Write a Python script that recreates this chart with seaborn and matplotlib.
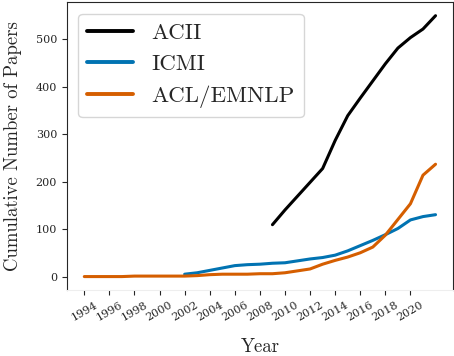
import numpy as np
import pandas as pd
import matplotlib
matplotlib.use("Agg")
import matplotlib.pyplot as plt
import seaborn as sns

# cumulative papers per venue
years = list(range(1994, 2023))
acii = [None] * 15 + [110, 141, 170, 199, 228, 287, 339, 376, 412, 448, 481, 503, 521, 549]
icmi = [None] * 8 + [6, 9, 14, 19, 24, 26, 27, 29, 30, 34, 38, 41, 46, 55, 66, 77, 89, 102, 120, 127, 131]
acl = [1, 1, 1, 1, 2, 2, 2, 2, 2, 3, 5, 6, 6, 6, 7, 7, 9, 13, 17, 27, 35, 42, 51, 63, 88, 121, 154, 214, 237]
venues = ["ACII", "ICMI", "ACL/EMNLP"]
colors = ["black", "#0173b2", "#d55e00"]

df = pd.DataFrame({"Year": years * 3,
                   "Papers": acii + icmi + acl,
                   "Venue": [v for v in venues for _ in years]}).dropna()

sns.set_style("ticks")
plt.rcParams["font.family"] = ["DejaVu Serif"]

fig = plt.figure(figsize=(4.54, 3.56), dpi=100)
ax = fig.add_axes([0.147, 0.185, 0.851, 0.809])

sns.lineplot(data=df, x="Year", y="Papers", hue="Venue", hue_order=venues,
             palette=colors, linewidth=2.2, ax=ax)

ax.set_xlim(1992.6, 2023.4)
ax.set_ylim(-27.5, 577.5)
ax.set_xticks(range(1994, 2021, 2))
ax.set_yticks([0, 100, 200, 300, 400, 500])
ax.tick_params(axis="x", labelsize=8, rotation=30)
ax.tick_params(axis="y", labelsize=8)
ax.spines["bottom"].set_color("#eeeeee")

ax.set_xlabel("Year", family="cmr10", fontsize=13.5, labelpad=11)
ax.set_ylabel("Cumulative Number of Papers", family="cmr10", fontsize=13.5, labelpad=10)

leg = ax.legend(loc="upper left", prop={"family": "cmr10", "size": 16.5})
leg.get_frame().set_edgecolor("#cccccc")
for line in leg.get_lines():
    line.set_linewidth(2.8)

fig.savefig("out.png", dpi=100)
